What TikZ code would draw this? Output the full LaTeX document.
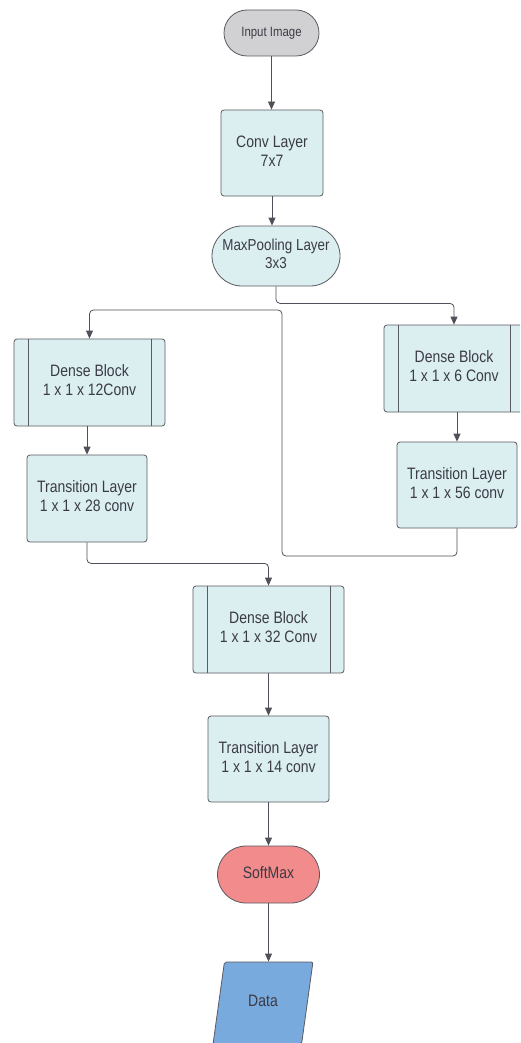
\documentclass[tikz,border=0pt]{standalone}
\usepackage{fontspec}
\setmainfont{Liberation Sans}
\usetikzlibrary{arrows.meta,shapes.geometric}
\definecolor{boxfill}{HTML}{DBEFF1}
\definecolor{boxline}{HTML}{5A5A62}
\definecolor{txt}{HTML}{3B3B45}
\definecolor{inpfill}{HTML}{D1D1D3}
\definecolor{smfill}{HTML}{F28B8C}
\definecolor{datafill}{HTML}{79AADD}
\definecolor{wire}{HTML}{50505A}
\newcommand\lbl[1]{\scalebox{1}[1.18]{\begin{tabular}{@{}c@{}}#1\end{tabular}}}
\tikzset{
  base/.style={draw=boxline, line width=0.8pt, text=txt, inner sep=0pt,
    font=\fontsize{14}{16}\selectfont},
  procbox/.style={base, rectangle, rounded corners=3pt, fill=boxfill},
  densebox/.style={procbox,
    path picture={
      \draw[boxline, line width=0.8pt]
        ([xshift=14pt]path picture bounding box.north west) --
        ([xshift=14pt]path picture bounding box.south west);
      \draw[boxline, line width=0.8pt]
        ([xshift=-14pt]path picture bounding box.north east) --
        ([xshift=-14pt]path picture bounding box.south east);
    }},
  wirearrow/.style={draw=wire, line width=0.8pt, rounded corners=4pt,
    -{Triangle[length=8pt,width=7pt]}},
}
\begin{document}
\begin{tikzpicture}[x=1pt,y=-1pt]
\useasboundingbox (0,0) rectangle (520,1043);
\clip (0,0) rectangle (520,1043);
\fill[white] (0,0) rectangle (520,1043);

\node[base, fill=inpfill, rounded corners=23pt, minimum width=95pt, minimum height=46pt,
      font=\fontsize{11.4}{13}\selectfont] (inp) at (271.5,33) {\lbl{Input Image}};
\node[procbox, minimum width=102pt, minimum height=86pt] (conv) at (272,153) {\lbl{Conv Layer\\7x7}};
\node[base, fill=boxfill, rounded corners=30pt, minimum width=128pt, minimum height=60pt,
      font=\fontsize{13.4}{15.5}\selectfont] (mp) at (276,256) {\lbl{MaxPooling Layer\\3x3}};

\node[densebox, minimum width=151pt, minimum height=87pt] (ldb) at (89.5,382.5) {\lbl{Dense Block\\1 x 1 x 12Conv}};
\node[procbox, minimum width=120pt, minimum height=87pt] (ltl) at (87,498.5) {\lbl{Transition Layer\\1 x 1 x 28 conv}};

\node[densebox, minimum width=140pt, minimum height=87pt] (rdb) at (454,368.5) {\lbl{Dense Block\\1 x 1 x 6 Conv}};
\node[procbox, minimum width=120pt, minimum height=86pt] (rtl) at (457,485) {\lbl{Transition Layer\\1 x 1 x 56 conv}};

\node[densebox, minimum width=151pt, minimum height=87pt] (cdb) at (268.5,629.5) {\lbl{Dense Block\\1 x 1 x 32 Conv}};
\node[procbox, minimum width=121pt, minimum height=86pt] (ctl) at (268.5,759) {\lbl{Transition Layer\\1 x 1 x 14 conv}};

\node[base, fill=smfill, rounded corners=28.5pt, minimum width=102pt, minimum height=57pt] (sm) at (268.5,874.5) {\lbl{SoftMax}};
\node[base, fill=datafill, trapezium, trapezium left angle=77, trapezium right angle=103,
      trapezium stretches=true, rounded corners=2pt, minimum width=100pt, minimum height=82pt] (data) at (263,1003) {\lbl{Data}};

\coordinate (r1) at (282,310);
\coordinate (r2) at (282,556);

\draw[wirearrow] (inp.south) -- (inp.south |- conv.north);
\draw[wirearrow] (conv.south) -- (conv.south |- mp.north);
\draw[wirearrow] (mp.south) -- ++(0,17) -| (rdb.north);
\draw[wirearrow] (rdb.south -| rtl.north) -- (rtl.north);
\draw[wirearrow] (rtl.south) |- (r2) -- (r1) -| (ldb.north);
\draw[wirearrow] (ldb.south -| ltl.north) -- (ltl.north);
\draw[wirearrow] (ltl.south) -- ++(0,21) -| (cdb.north);
\draw[wirearrow] (cdb.south) -- (ctl.north);
\draw[wirearrow] (ctl.south) -- (sm.north);
\draw[wirearrow] (sm.south) -- (sm.south |- data.north);
\end{tikzpicture}
\end{document}
